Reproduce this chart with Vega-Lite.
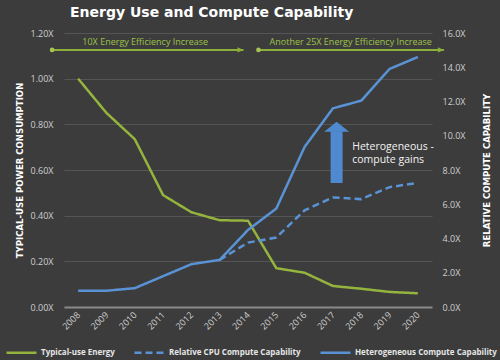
{
  "$schema": "https://vega.github.io/schema/vega-lite/v6.json",
  "width": 368,
  "height": 274,
  "autosize": {"type": "none"},
  "padding": {"left": 64, "top": 33, "right": 68, "bottom": 53},
  "background": "#3c3c3c",
  "title": {
    "text": "Energy Use and Compute Capability",
    "anchor": "start",
    "frame": "group",
    "dx": 6,
    "offset": 9,
    "font": "DejaVu Sans",
    "fontSize": 14,
    "fontWeight": "bold",
    "color": "#ffffff",
    "limit": 0
  },
  "config": {
    "view": {"stroke": null},
    "font": "Open Sans",
    "axisRight": {
      "title": "RELATIVE COMPUTE CAPABILITY",
      "values": [0, 2, 4, 6, 8, 10, 12, 14, 16],
      "labelExpr": "format(datum.value, '.1f') + 'X'",
      "labelFontSize": 9,
      "labelColor": "#cfcfcf",
      "labelPadding": 10,
      "labelOverlap": false,
      "ticks": false,
      "domain": false,
      "grid": false,
      "titleFont": "Liberation Sans Narrow, DejaVu Sans Condensed, Roboto",
      "titleFontSize": 9.5,
      "titleFontWeight": "bold",
      "titleColor": "#ffffff",
      "titleAngle": -90,
      "titlePadding": 26
    },
    "legend": {
      "orient": "none",
      "legendX": -59,
      "legendY": 303,
      "direction": "horizontal",
      "symbolType": "stroke",
      "symbolSize": 900,
      "symbolStrokeWidth": 2.5,
      "labelFontSize": 8,
      "labelFontWeight": "bold",
      "labelColor": "#e6e6e6",
      "labelOffset": 3,
      "columnPadding": 14,
      "labelLimit": 0
    }
  },
  "data": {
    "values": [
      {"year": 2008, "series": "Typical-use Energy", "value": 1.0},
      {"year": 2009, "series": "Typical-use Energy", "value": 0.85},
      {"year": 2010, "series": "Typical-use Energy", "value": 0.735},
      {"year": 2011, "series": "Typical-use Energy", "value": 0.49},
      {"year": 2012, "series": "Typical-use Energy", "value": 0.415},
      {"year": 2013, "series": "Typical-use Energy", "value": 0.38},
      {"year": 2014, "series": "Typical-use Energy", "value": 0.378},
      {"year": 2015, "series": "Typical-use Energy", "value": 0.17},
      {"year": 2016, "series": "Typical-use Energy", "value": 0.15},
      {"year": 2017, "series": "Typical-use Energy", "value": 0.092},
      {"year": 2018, "series": "Typical-use Energy", "value": 0.08},
      {"year": 2019, "series": "Typical-use Energy", "value": 0.066},
      {"year": 2020, "series": "Typical-use Energy", "value": 0.06},
      {"year": 2013, "series": "Relative CPU Compute Capability", "value": 2.75},
      {"year": 2014, "series": "Relative CPU Compute Capability", "value": 3.76},
      {"year": 2015, "series": "Relative CPU Compute Capability", "value": 4.06},
      {"year": 2016, "series": "Relative CPU Compute Capability", "value": 5.65},
      {"year": 2017, "series": "Relative CPU Compute Capability", "value": 6.4},
      {"year": 2018, "series": "Relative CPU Compute Capability", "value": 6.3},
      {"year": 2019, "series": "Relative CPU Compute Capability", "value": 7.0},
      {"year": 2020, "series": "Relative CPU Compute Capability", "value": 7.25},
      {"year": 2008, "series": "Heterogeneous Compute Capability", "value": 0.95},
      {"year": 2009, "series": "Heterogeneous Compute Capability", "value": 0.95},
      {"year": 2010, "series": "Heterogeneous Compute Capability", "value": 1.1},
      {"year": 2011, "series": "Heterogeneous Compute Capability", "value": 1.8},
      {"year": 2012, "series": "Heterogeneous Compute Capability", "value": 2.5},
      {"year": 2013, "series": "Heterogeneous Compute Capability", "value": 2.75},
      {"year": 2014, "series": "Heterogeneous Compute Capability", "value": 4.5},
      {"year": 2015, "series": "Heterogeneous Compute Capability", "value": 5.75},
      {"year": 2016, "series": "Heterogeneous Compute Capability", "value": 9.35},
      {"year": 2017, "series": "Heterogeneous Compute Capability", "value": 11.6},
      {"year": 2018, "series": "Heterogeneous Compute Capability", "value": 12.05},
      {"year": 2019, "series": "Heterogeneous Compute Capability", "value": 13.9},
      {"year": 2020, "series": "Heterogeneous Compute Capability", "value": 14.6}
    ]
  },
  "encoding": {
    "x": {
      "field": "year",
      "type": "quantitative",
      "scale": {"domain": [2007.5, 2020.5], "nice": false, "zero": false},
      "axis": {
        "title": null,
        "values": [2008, 2009, 2010, 2011, 2012, 2013, 2014, 2015, 2016, 2017, 2018, 2019, 2020],
        "format": "d",
        "labelAngle": -45,
        "labelAlign": "right",
        "labelBaseline": "middle",
        "labelPadding": 6,
        "labelFontSize": 9,
        "labelColor": "#cfcfcf",
        "labelFlush": false,
        "labelOverlap": false,
        "ticks": false,
        "grid": false,
        "domainColor": "#8a8a8a",
        "domainWidth": 2
      }
    }
  },
  "layer": [
    {
      "layer": [
        {
          "transform": [{"filter": "datum.series === 'Typical-use Energy'"}],
          "mark": {"type": "line", "strokeWidth": 2.5},
          "encoding": {
            "y": {
              "field": "value",
              "type": "quantitative",
              "scale": {"domain": [0, 1.2], "nice": false},
              "axis": {
                "title": "TYPICAL-USE POWER CONSUMPTION",
                "values": [0, 0.2, 0.4, 0.6, 0.8, 1.0, 1.2],
                "labelExpr": "format(datum.value, '.2f') + 'X'",
                "labelFontSize": 9,
                "labelColor": "#cfcfcf",
                "labelPadding": 11,
                "labelOverlap": false,
                "ticks": false,
                "domain": false,
                "grid": true,
                "gridColor": "#555555",
                "gridWidth": 1,
                "titleFont": "Liberation Sans Narrow, DejaVu Sans Condensed, Roboto",
                "titleFontSize": 9.5,
                "titleFontWeight": "bold",
                "titleColor": "#ffffff",
                "titleAngle": -90,
                "titlePadding": 5
              }
            },
            "color": {
              "field": "series",
              "type": "nominal",
              "scale": {
                "domain": ["Typical-use Energy", "Relative CPU Compute Capability", "Heterogeneous Compute Capability"],
                "range": ["#94B43E", "#5A93D5", "#5A93D5"]
              },
              "legend": {"title": null}
            },
            "strokeDash": {
              "field": "series",
              "type": "nominal",
              "scale": {
                "domain": ["Typical-use Energy", "Relative CPU Compute Capability", "Heterogeneous Compute Capability"],
                "range": [[1, 0], [7, 4], [1, 0]]
              },
              "legend": {"title": null}
            }
          }
        },
        {
          "data": {"values": [
            {"x": 2007.08, "x2": 2013.84, "y": 1.126},
            {"x": 2014.37, "x2": 2020.92, "y": 1.126}
          ]},
          "mark": {"type": "rule", "color": "#8DAF3A", "strokeWidth": 2},
          "encoding": {
            "x": {"field": "x", "type": "quantitative"},
            "x2": {"field": "x2"},
            "y": {"field": "y", "type": "quantitative"}
          }
        },
        {
          "data": {"values": [
            {"x": 2007.08, "y": 1.126},
            {"x": 2014.37, "y": 1.126}
          ]},
          "mark": {"type": "point", "shape": "circle", "filled": true, "opacity": 1, "color": "#A6C452", "size": 22},
          "encoding": {
            "x": {"field": "x", "type": "quantitative"},
            "y": {"field": "y", "type": "quantitative"}
          }
        },
        {
          "data": {"values": [
            {"x": 2013.84, "y": 1.126},
            {"x": 2020.92, "y": 1.126}
          ]},
          "mark": {"type": "point", "shape": "M-1,-0.45L0,0L-1,0.45Z", "filled": true, "opacity": 1, "color": "#8DAF3A", "size": 144},
          "encoding": {
            "x": {"field": "x", "type": "quantitative"},
            "y": {"field": "y", "type": "quantitative"}
          }
        },
        {
          "data": {"values": [
            {"x": 2010.37, "y": 1.16, "label": "10X Energy Efficiency Increase"},
            {"x": 2017.63, "y": 1.16, "label": "Another 25X Energy Efficiency Increase"}
          ]},
          "mark": {"type": "text", "fontSize": 9, "color": "#9CC24A", "baseline": "middle", "align": "center"},
          "encoding": {
            "x": {"field": "x", "type": "quantitative"},
            "y": {"field": "y", "type": "quantitative"},
            "text": {"field": "label"}
          }
        }
      ]
    },
    {
      "layer": [
        {
          "transform": [{"filter": "datum.series !== 'Typical-use Energy'"}],
          "mark": {"type": "line", "strokeWidth": 2.5},
          "encoding": {
            "y": {
              "field": "value",
              "type": "quantitative",
              "scale": {"domain": [0, 16], "nice": false},
              "axis": {"orient": "right", "title": "RELATIVE COMPUTE CAPABILITY", "values": [0, 2, 4, 6, 8, 10, 12, 14, 16], "labelOverlap": false}
            },
            "color": {"field": "series", "type": "nominal", "legend": {"title": null}},
            "strokeDash": {"field": "series", "type": "nominal", "legend": {"title": null}}
          }
        },
        {
          "data": {"values": [{"x": 2017.13, "y": 7.24, "y2": 10.26}]},
          "mark": {"type": "rule", "color": "#4F8AD0", "strokeWidth": 12},
          "encoding": {
            "x": {"field": "x", "type": "quantitative"},
            "y": {"field": "y", "type": "quantitative", "axis": {"orient": "right", "title": "RELATIVE COMPUTE CAPABILITY", "values": [0, 2, 4, 6, 8, 10, 12, 14, 16], "labelOverlap": false}},
            "y2": {"field": "y2"}
          }
        },
        {
          "data": {"values": [{"x": 2017.13, "y": 10.24}]},
          "mark": {"type": "point", "shape": "M-1,0L0,-0.8L1,0Z", "filled": true, "opacity": 1, "color": "#4F8AD0", "size": 625},
          "encoding": {
            "x": {"field": "x", "type": "quantitative"},
            "y": {"field": "y", "type": "quantitative", "axis": {"orient": "right", "title": "RELATIVE COMPUTE CAPABILITY", "values": [0, 2, 4, 6, 8, 10, 12, 14, 16], "labelOverlap": false}}
          }
        },
        {
          "data": {"values": [
            {"x": 2017.68, "y": 9.35, "label": "Heterogeneous -"},
            {"x": 2017.68, "y": 8.59, "label": "compute gains"}
          ]},
          "mark": {"type": "text", "fontSize": 10.5, "color": "#f2f2f2", "baseline": "middle", "align": "left"},
          "encoding": {
            "x": {"field": "x", "type": "quantitative"},
            "y": {"field": "y", "type": "quantitative", "axis": {"orient": "right", "title": "RELATIVE COMPUTE CAPABILITY", "values": [0, 2, 4, 6, 8, 10, 12, 14, 16], "labelOverlap": false}},
            "text": {"field": "label"}
          }
        }
      ]
    }
  ],
  "resolve": {"scale": {"y": "independent"}}
}
